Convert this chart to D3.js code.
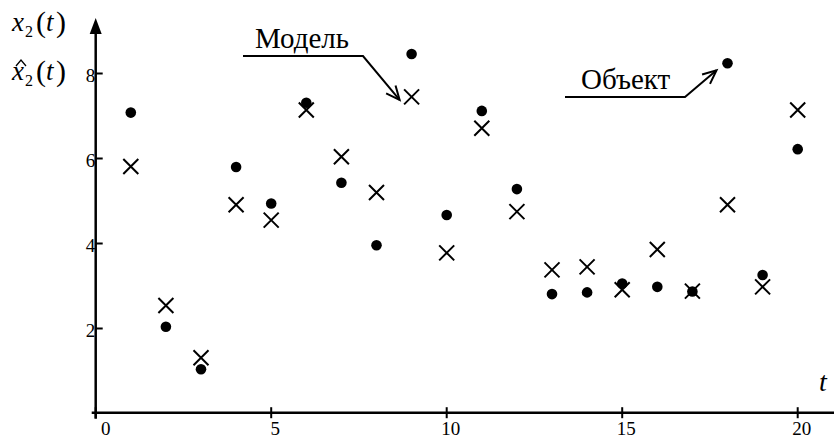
<!DOCTYPE html>
<html>
<head>
<meta charset="utf-8">
<script src="https://cdn.jsdelivr.net/npm/d3@7"></script>
<style>
  body { margin: 0; background: #fff; }
  svg { display: block; }
</style>
</head>
<body>
<div id="chart"></div>
<script>
// data
const steps = d3.range(1, 21);
const objectVals = [7.08, 2.04, 1.04, 5.80, 4.94, 7.31, 5.43, 3.96, 8.46, 4.67,
                    7.12, 5.28, 2.81, 2.85, 3.06, 2.98, 2.87, 8.24, 3.26, 6.22];
const modelVals  = [5.81, 2.54, 1.31, 4.91, 4.55, 7.14, 6.04, 5.20, 7.45, 3.78,
                    6.71, 4.75, 3.38, 3.45, 2.91, 3.86, 2.88, 4.91, 2.98, 7.14];
const xTicks = [0, 5, 10, 15, 20];
const yTicks = [2, 4, 6, 8];

const width = 834, height = 439;
const serif = '"Liberation Serif"';

const svg = d3.select("#chart")
    .append("svg")
    .attr("width", width)
    .attr("height", height);

const x = d3.scaleLinear().domain([0, 20]).range([95.7, 797.7]);
const y = d3.scaleLinear().domain([0, 8]).range([413.5, 73.5]);

function addText(parent) {
    return parent.append("text").style("font-family", serif);
}

// axes lines
const axisY = y(0) - 0.8;
svg.append("line")
    .attr("x1", x(0) - 4).attr("x2", width)
    .attr("y1", axisY).attr("y2", axisY)
    .attr("stroke", "#000").attr("stroke-width", 2.5);

svg.append("line")
    .attr("x1", x(0)).attr("x2", x(0))
    .attr("y1", axisY + 6).attr("y2", 30)
    .attr("stroke", "#000").attr("stroke-width", 2.5);

// arrow head on y axis
svg.append("path")
    .attr("d", `M${x(0)},18 L${x(0) - 6},34 L${x(0) + 6},34 Z`)
    .attr("fill", "#000");

// x ticks cross the axis
const xt = svg.append("g").selectAll("g")
    .data(xTicks)
    .enter().append("g")
    .attr("transform", d => `translate(${x(d)},${axisY})`);

xt.append("line")
    .attr("y1", -5.5).attr("y2", 5.5)
    .attr("stroke", "#000").attr("stroke-width", 2);

xt.append("text")
    .style("font-family", serif)
    .attr("x", d => d === 0 ? 10 : 4)
    .attr("y", 22)
    .attr("text-anchor", "middle")
    .attr("font-size", 19)
    .text(d => d);

// y ticks point right, labels left of the axis
const yt = svg.append("g").selectAll("g")
    .data(yTicks)
    .enter().append("g")
    .attr("transform", d => `translate(${x(0)},${y(d)})`);

yt.append("line")
    .attr("x2", 7)
    .attr("stroke", "#000").attr("stroke-width", 2);

yt.append("text")
    .style("font-family", serif)
    .attr("x", -0.5)
    .attr("y", 8)
    .attr("text-anchor", "end")
    .attr("font-size", 19)
    .text(d => d);

// axis titles: x2(t) and its estimate
function fnLabel(baseline, hat) {
    const g = svg.append("g").attr("font-size", 27);
    addText(g).attr("x", 12).attr("y", baseline)
        .attr("font-style", "italic").text("x");
    if (hat) {
        g.append("path")
            .attr("d", `M16,${baseline - 14} L21,${baseline - 20} L26,${baseline - 14}`)
            .attr("fill", "none").attr("stroke", "#000").attr("stroke-width", 1.3);
    }
    addText(g).attr("x", 25).attr("y", baseline + 6)
        .attr("font-size", 16).text("2");
    addText(g).attr("x", 36).attr("y", baseline + 1)
        .attr("font-size", 30).text("(");
    addText(g).attr("x", 46).attr("y", baseline)
        .attr("font-style", "italic").text("t");
    addText(g).attr("x", 56).attr("y", baseline + 1)
        .attr("font-size", 30).text(")");
}
fnLabel(31, false);
fnLabel(80, true);

addText(svg)
    .attr("x", 819).attr("y", 391)
    .attr("font-size", 28)
    .attr("font-style", "italic")
    .text("t");

// object points (dots)
svg.append("g").selectAll("circle")
    .data(steps)
    .enter().append("circle")
    .attr("cx", d => x(d))
    .attr("cy", (d, i) => y(objectVals[i]))
    .attr("r", 5.3)
    .attr("fill", "#000");

// model points (crosses)
const s = 7.5;
svg.append("g").selectAll("path")
    .data(steps)
    .enter().append("path")
    .attr("d", (d, i) => {
        const cx = x(d), cy = y(modelVals[i]);
        return `M${cx - s},${cy - s}L${cx + s},${cy + s}M${cx - s},${cy + s}L${cx + s},${cy - s}`;
    })
    .attr("stroke", "#000")
    .attr("stroke-width", 2)
    .attr("fill", "none");

// annotations with arrows
function callout(label, tx, ty, x0, x1, ly, tip) {
    addText(svg)
        .attr("x", tx).attr("y", ty)
        .attr("font-size", 29)
        .text(label);
    svg.append("path")
        .attr("d", `M${x0},${ly}L${x1},${ly}L${tip[0]},${tip[1]}`)
        .attr("fill", "none").attr("stroke", "#000").attr("stroke-width", 2);
    const a = Math.atan2(tip[1] - ly, tip[0] - x1);
    const len = 15, spread = 0.42;
    const p1 = [tip[0] - len * Math.cos(a - spread), tip[1] - len * Math.sin(a - spread)];
    const p2 = [tip[0] - len * Math.cos(a + spread), tip[1] - len * Math.sin(a + spread)];
    svg.append("path")
        .attr("d", `M${p1[0]},${p1[1]}L${tip[0]},${tip[1]}L${p2[0]},${p2[1]}`)
        .attr("fill", "none").attr("stroke", "#000").attr("stroke-width", 2);
}

callout("Модель", 255, 48, 243, 363, 56, [x(9) - 12, y(modelVals[8]) + 3]);
callout("Объект", 581, 89, 565, 685, 97, [x(18) - 11, y(objectVals[17]) + 7]);
</script>
</body>
</html>
